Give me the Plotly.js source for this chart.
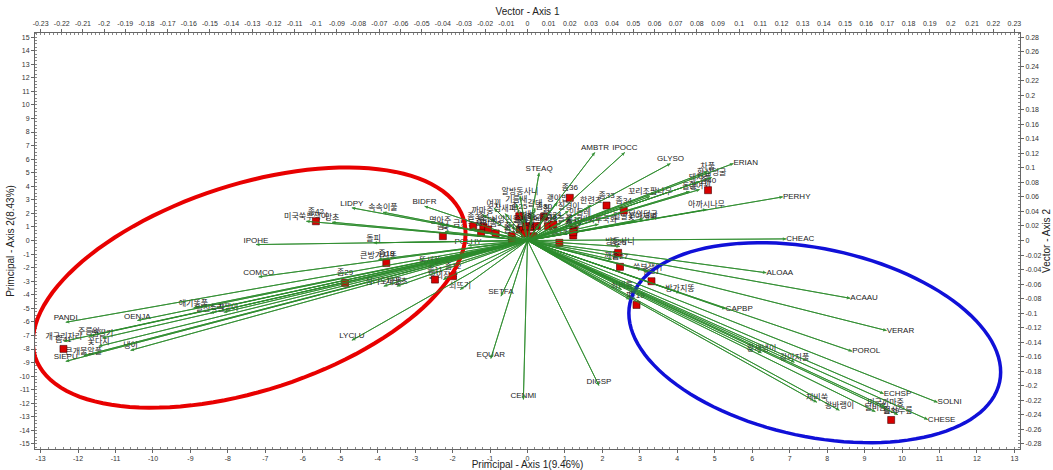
<!DOCTYPE html>
<html><head><meta charset="utf-8">
<script src="https://cdn.plot.ly/plotly-3.0.1.min.js"></script>
<style>html,body{margin:0;padding:0;background:#fff}#chart{width:1053px;height:470px}</style>
</head><body><div id="chart"></div>
<script>
// ---- variable vectors (species) ----
const arrowLabels = ["PANDI","OENJA","IPOHE","COMCO","LIDPY","BIDFR","LYCLU","SIEPU","속속이풀","미국쑥부쟁이","망초","돌피","큰방가지똥","점나도나물","개망초","애기똥풀","털진득찰","소리쟁이","개구리자리","주름잎","뱀딸기","큰개불알풀","꽃다지","냉이","명아주","쑥","POLHY","닭의장풀","쇠뜨기","뚝새풀",
"STEAQ","AMBTR","IPOCC","GLYSO","ERIAN","PERHY","CHEAC","차풀","돼지풀","환삼덩굴","돌콩","흰여뀌","꼬리조팝나무","아까시나무","닭의덩굴","털별꽃아재비","방동사니","깨풀","쑥부쟁이","방가지똥","쇠비름","피",
"ALOAA","ACAAU","CAPBP","VERAR","POROL","SOLNI","CHESE","ECHSP","제비쑥","왕바랭이","털비름","미국까마중","털쇠무릎","황새냉이","강아지풀","SETFA","EQUAR","CENMI","DIGSP",
"까마중","여뀌","참새피","기름새","억새","갈대","칡","괭이밥","질경이","민들레","서양민들레","애기땅빈대","한련초","금방동사니","바늘꽃","비짜루국화","알방동사니"];
const arrowX = [-12.33,-10.42,-7.25,-7.18,-4.69,-2.75,-4.69,-12.33,-3.86,-5.91,-5.22,-4.11,-3.98,-3.84,-3.49,-8.92,-8.47,-8.11,-12.38,-11.71,-11.35,-11.85,-11.45,-10.60,-2.33,-2.20,-1.59,-2.25,-1.80,-2.60,
0.31,1.80,2.60,3.82,5.50,6.82,6.91,4.81,4.60,4.92,4.33,4.60,3.27,4.78,3.09,2.87,2.47,2.25,3.21,4.07,2.52,2.73,
6.38,8.62,5.29,9.59,8.67,10.95,10.69,9.51,7.73,8.33,9.29,9.56,9.89,6.25,7.13,-0.71,-0.98,-0.11,1.91,
-1.2,-0.9,-0.6,-0.3,-0.1,0.2,0.5,0.8,1.1,1.4,-0.5,0.3,1.7,-1.5,0.9,1.9,-0.2];
const arrowY = [-6.03,-5.90,-0.30,-2.68,2.41,2.53,-7.36,-8.91,2.09,1.42,1.35,-0.17,-1.40,-3.37,-3.37,-4.97,-5.34,-5.29,-7.43,-7.06,-7.18,-8.49,-7.80,-8.10,1.18,0.66,-0.37,-2.88,-3.62,-1.77,
5.00,6.50,6.50,5.68,5.68,3.22,0.12,5.09,4.35,4.65,3.62,3.76,3.25,2.29,1.60,1.42,-0.44,-1.40,-2.29,-3.86,-3.62,-4.35,
-2.38,-4.26,-5.04,-6.64,-8.17,-11.93,-13.20,-11.29,-11.93,-12.52,-12.62,-12.27,-12.84,-8.29,-8.98,-4.11,-8.71,-11.73,-10.70,
1.9,2.4,2.0,2.7,1.6,2.4,2.0,2.8,2.2,1.7,1.2,1.1,2.6,0.9,1.3,1.2,3.3];

// ---- sites ----
const siteLabels = ["좀42","좀18","좀29","좀11","좀12","좀7","좀3","좀4","좀21","좀2","좀5","좀14","좀15","좀1","좀9","좀6","좀22","좀8","좀10","좀23","좀24","좀30","좀25","좀16","좀17","좀13","좀36","좀33","좀34","좀40","좀26","좀27","좀31","좀19","좀39","좀41","좀20"];
const siteX = [-5.65,-3.77,-4.87,-2.47,-1.99,-2.26,-1.45,-1.18,-1.05,-1.24,-0.85,-0.42,-0.41,-0.20,-0.04,0.11,0.25,0.15,-0.07,0.55,0.69,0.44,-0.22,1.24,1.22,0.85,1.13,2.11,2.57,4.82,2.42,2.47,3.31,2.91,9.71,-12.39,1.22];
const siteY = [1.42,-1.65,-3.12,-2.88,-2.63,0.32,1.06,1.01,0.81,0.57,0.52,0.32,0.07,0.81,1.06,0.98,1.06,0.32,0.52,1.06,1.18,1.75,1.79,0.81,0.37,-0.17,3.15,2.58,2.21,3.71,-0.91,-1.94,-3.00,-4.75,-13.23,-7.99,0.61];

// ---- axis ticks ----
const principalXTicks = [-13,-12,-11,-10,-9,-8,-7,-6,-5,-4,-3,-2,-1,0,1,2,3,4,5,6,7,8,9,10,11,12,13];
const principalYTicks = [-15,-14,-13,-12,-11,-10,-9,-8,-7,-6,-5,-4,-3,-2,-1,0,1,2,3,4,5,6,7,8,9,10,11,12,13,14,15];
const vectorXTicks = [-0.23,-0.22,-0.21,-0.2,-0.19,-0.18,-0.17,-0.16,-0.15,-0.14,-0.13,-0.12,-0.11,-0.1,-0.09,-0.08,-0.07,-0.06,-0.05,-0.04,-0.03,-0.02,-0.01,0,0.01,0.02,0.03,0.04,0.05,0.06,0.07,0.08,0.09,0.1,0.11,0.12,0.13,0.14,0.15,0.16,0.17,0.18,0.19,0.2,0.21,0.22,0.23];
const vectorYTicks = [-0.28,-0.26,-0.24,-0.22,-0.2,-0.18,-0.16,-0.14,-0.12,-0.1,-0.08,-0.06,-0.04,-0.02,0,0.02,0.04,0.06,0.08,0.1,0.12,0.14,0.16,0.18,0.2,0.22,0.24,0.26,0.28];

// ---- grouping ellipses (center in data units, semi-axes in px, tilt in degrees) ----
const redEllipse = {cx:-7.43, cy:-3.47, a:225, b:103, tilt:18};
const blueEllipse = {cx:7.67, cy:-7.53, a:189, b:94, tilt:-12};

const XR = [-13.15, 13.15], YR = [-15.37, 15.3];
const PW = 985, PH = 416;
const pxX = PW/(XR[1]-XR[0]), pxY = PH/(YR[1]-YR[0]);

function ellipsePath(e){
  const th = e.tilt*Math.PI/180; let p = '';
  for(let k=0;k<=120;k++){
    const t = k/120*2*Math.PI;
    const dx = e.a*Math.cos(t)*Math.cos(th) - e.b*Math.sin(t)*Math.sin(th);
    const dy = e.a*Math.cos(t)*Math.sin(th) + e.b*Math.sin(t)*Math.cos(th);
    p += (k?'L':'M') + (e.cx+dx/pxX).toFixed(4) + ',' + (e.cy+dy/pxY).toFixed(4);
  }
  return p+'Z';
}

const GREEN = 'rgba(45,140,45,0.85)';
const lx=[], ly=[];
arrowX.forEach((x,i)=>{lx.push(0,x,null); ly.push(0,arrowY[i],null);});
const isCode = s => /^[A-Z]+$/.test(s);
const tpos = arrowLabels.map((s,i)=> (isCode(s) && arrowX[i]>5) ? 'middle right' : 'top center');

const FONT = 'Liberation Sans, Arial, Noto Sans CJK KR, sans-serif';
const traces = [
  {x:lx, y:ly, mode:'lines', line:{color:GREEN, width:1}, hoverinfo:'skip', showlegend:false},
  {x:arrowX, y:arrowY, mode:'text', text:arrowLabels, textposition:tpos,
   textfont:{family:FONT, size:8, color:'#222'}, hoverinfo:'skip', showlegend:false, cliponaxis:false},
  {x:siteX, y:siteY, mode:'markers+text', text:siteLabels, textposition:'top center',
   textfont:{family:FONT, size:8, color:'#222'},
   marker:{symbol:'square', size:7, color:'#d80000', line:{color:'#400', width:0.6}}, hoverinfo:'skip', showlegend:false},
  {x:[0], y:[0], xaxis:'x2', yaxis:'y2', mode:'markers', marker:{opacity:0}, hoverinfo:'skip', showlegend:false}
];

const annotations = arrowX.map((x,i)=>({x:x, y:arrowY[i], ax:0, ay:0, axref:'x', ayref:'y', xref:'x', yref:'y',
  text:'', showarrow:true, arrowhead:2, arrowsize:0.7, arrowwidth:1, arrowcolor:GREEN, standoff:0}));

const fmt = v => String(v);
const axCommon = {showgrid:false, zeroline:false, showline:true, linecolor:'#666', linewidth:1,
  ticks:'outside', ticklen:3, tickcolor:'#666', tickfont:{family:FONT, size:7, color:'#333'},
  minor:{ticks:'inside', ticklen:2, tickcolor:'#888', showgrid:false}};

const layout = {
  width:1053, height:470, margin:{l:35, r:33, t:33, b:21},
  paper_bgcolor:'#fff', plot_bgcolor:'#fff',
  xaxis:Object.assign({}, axCommon, {range:XR, tickmode:'array', tickvals:principalXTicks, ticktext:principalXTicks.map(fmt),
    minor:Object.assign({}, axCommon.minor, {dtick:0.2}),
    title:{text:'Primcipal - Axis 1(9.46%)', font:{family:FONT, size:10, color:'#222'}, standoff:2}}),
  yaxis:Object.assign({}, axCommon, {range:YR, tickmode:'array', tickvals:principalYTicks, ticktext:principalYTicks.map(fmt),
    minor:Object.assign({}, axCommon.minor, {dtick:0.25}),
    title:{text:'Primcipal - Axis 2(8.43%)', font:{family:FONT, size:10, color:'#222'}, standoff:2}}),
  xaxis2:Object.assign({}, axCommon, {overlaying:'x', side:'top', range:[XR[0]*0.23/13, XR[1]*0.23/13],
    tickmode:'array', tickvals:vectorXTicks, ticktext:vectorXTicks.map(fmt),
    minor:Object.assign({}, axCommon.minor, {dtick:0.002}),
    title:{text:'Vector - Axis 1', font:{family:FONT, size:10, color:'#222'}, standoff:2}}),
  yaxis2:Object.assign({}, axCommon, {overlaying:'y', side:'right', range:[YR[0]*0.28/15, YR[1]*0.28/15],
    tickmode:'array', tickvals:vectorYTicks, ticktext:vectorYTicks.map(fmt),
    minor:Object.assign({}, axCommon.minor, {dtick:0.005}),
    title:{text:'Vector - Axis 2', font:{family:FONT, size:10, color:'#222'}, standoff:2}}),
  shapes:[
    {type:'path', xref:'x', yref:'y', path:ellipsePath(redEllipse), line:{color:'#e80000', width:4}, layer:'above'},
    {type:'path', xref:'x', yref:'y', path:ellipsePath(blueEllipse), line:{color:'#1010d8', width:3.5}, layer:'above'}
  ],
  annotations:annotations
};
Plotly.newPlot('chart', traces, layout, {displayModeBar:false, staticPlot:true});
</script></body></html>
